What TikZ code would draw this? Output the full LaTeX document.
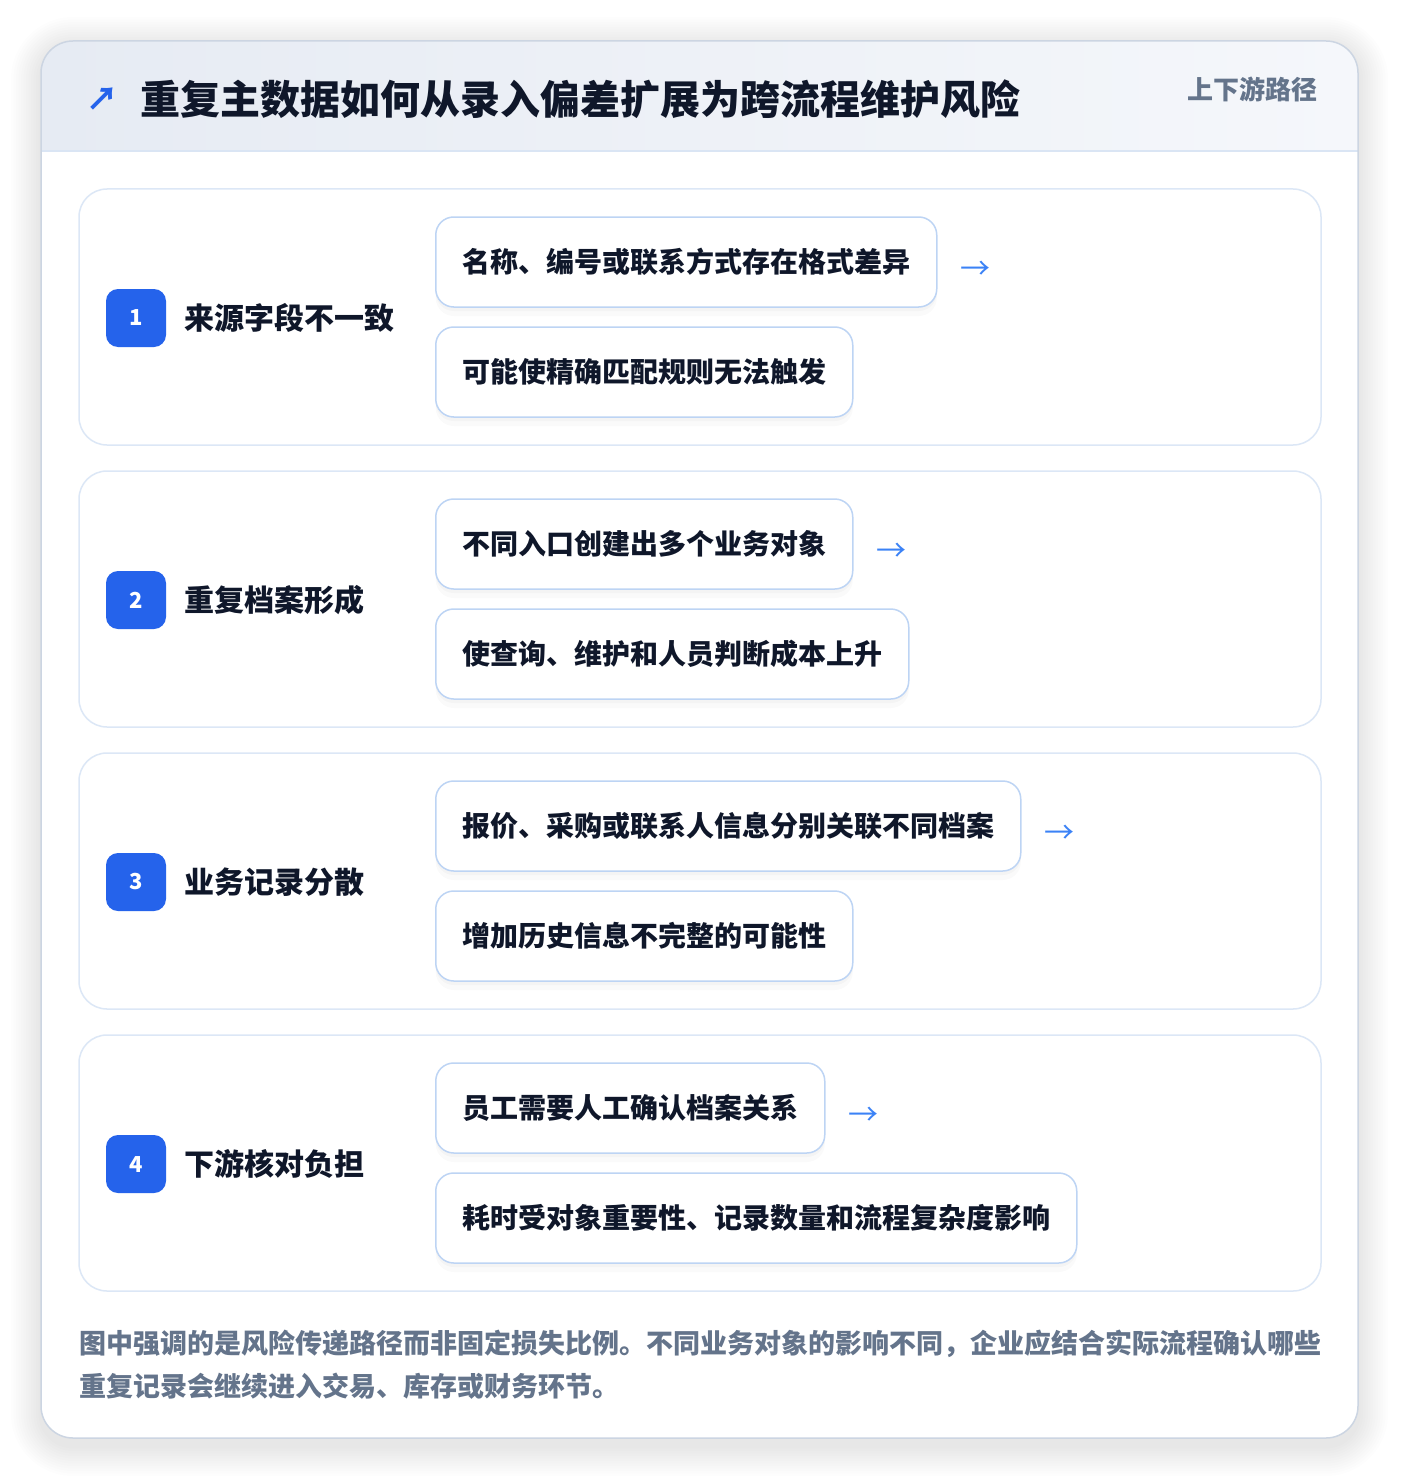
\documentclass[tikz,border=0pt]{standalone}
\usepackage{fontspec}
\setmainfont{Noto Sans CJK SC}[BoldFont={Noto Sans CJK SC Black}]
\usetikzlibrary{positioning,shadows}
\definecolor{ink}{HTML}{0F172A}
\definecolor{muted}{HTML}{64748B}
\definecolor{badgeblue}{HTML}{2563EB}
\definecolor{arrowblue}{HTML}{3B82F6}
\definecolor{cardline}{HTML}{DCE7F6}
\definecolor{boxline}{HTML}{BDD4F4}
\definecolor{outerline}{HTML}{CCD5E2}
\definecolor{headleft}{HTML}{E6EBF3}
\definecolor{headright}{HTML}{F5F7FB}
\definecolor{headline}{HTML}{DAE5F4}

\begin{document}
\begin{tikzpicture}[x=1pt,y=-1pt,
    stepcard/.style={draw=cardline,line width=1.5pt,fill=white,rounded corners=28pt},
    badge/.style={fill=badgeblue,rounded corners=12pt,minimum width=60pt,minimum height=58pt,
        text=white,font=\fontsize{22}{22}\selectfont\bfseries},
    steplabel/.style={anchor=west,inner sep=0pt,text=ink,font=\fontsize{30}{30}\selectfont\bfseries},
    itembox/.style={draw=boxline,line width=1.5pt,fill=white,rounded corners=18pt,anchor=west,
        minimum height=90pt,inner xsep=26.5pt,text=ink,font=\fontsize{28}{28}\selectfont\bfseries,
        general shadow={fill=black,opacity=0.025,shadow xshift=0pt,shadow yshift=-4pt},
        general shadow={fill=black,opacity=0.02,shadow xshift=0pt,shadow yshift=-9pt}},
    flowarrow/.style={inner sep=0pt,text=arrowblue,font=\fontsize{30}{30}\selectfont},
    footnote/.style={anchor=base west,inner sep=0pt,text=muted,font=\fontsize{27}{27}\selectfont\bfseries}]
\useasboundingbox (0,0) rectangle (1400,1482);
\fill[white] (0,0) rectangle (1400,1482);

% outer card, soft shadow and header band
\foreach \i [evaluate=\i as \r using 32+2.5*\i] in {1,...,12}
    \fill[black,opacity=0.006,rounded corners=\r pt]
        (41-2.5*\i,47-2.5*\i) rectangle (1358+2.5*\i,1446+2.5*\i);
\fill[white,rounded corners=32pt] (41,41) rectangle (1358,1438);
\begin{scope}
    \clip[rounded corners=32pt] (41,41) rectangle (1358,1438);
    \shade[left color=headleft,right color=headright] (41,41) rectangle (1358,151);
\end{scope}
\draw[headline,line width=1.5pt] (41,151) -- (1358,151);
\draw[outerline,line width=1.5pt,rounded corners=32pt] (41,41) rectangle (1358,1438);

\node[text=badgeblue,inner sep=0pt,font=\fontsize{32}{32}\selectfont\bfseries] (icon) at (102,99) {↗};
\node[anchor=west,inner sep=0pt,text=ink,font=\fontsize{40}{40}\selectfont\bfseries] (title) at (140,99)
    {重复主数据如何从录入偏差扩展为跨流程维护风险};
\node[anchor=east,inner sep=0pt,text=muted,font=\fontsize{26}{26}\selectfont\bfseries] (tag) at (1318,89)
    {上下游路径};

% step 1
\draw[stepcard] (79,189) rectangle (1321,445);
\node[badge] (n1) at (136,318) {1};
\node[steplabel] (s1) at (184,318) {来源字段不一致};
\node[itembox] (b11) at (435,262) {名称、编号或联系方式存在格式差异};
\node[itembox] (b12) at (435,372) {可能使精确匹配规则无法触发};
\node[flowarrow,right=23pt of b11,yshift=-8pt] (a1) {→};

% step 2
\draw[stepcard] (79,471) rectangle (1321,727);
\node[badge] (n2) at (136,600) {2};
\node[steplabel] (s2) at (184,600) {重复档案形成};
\node[itembox] (b21) at (435,544) {不同入口创建出多个业务对象};
\node[itembox] (b22) at (435,654) {使查询、维护和人员判断成本上升};
\node[flowarrow,right=23pt of b21,yshift=-8pt] (a2) {→};

% step 3
\draw[stepcard] (79,753) rectangle (1321,1009);
\node[badge] (n3) at (136,882) {3};
\node[steplabel] (s3) at (184,882) {业务记录分散};
\node[itembox] (b31) at (435,826) {报价、采购或联系人信息分别关联不同档案};
\node[itembox] (b32) at (435,936) {增加历史信息不完整的可能性};
\node[flowarrow,right=23pt of b31,yshift=-8pt] (a3) {→};

% step 4
\draw[stepcard] (79,1035) rectangle (1321,1291);
\node[badge] (n4) at (136,1164) {4};
\node[steplabel] (s4) at (184,1164) {下游核对负担};
\node[itembox] (b41) at (435,1108) {员工需要人工确认档案关系};
\node[itembox] (b42) at (435,1218) {耗时受对象重要性、记录数量和流程复杂度影响};
\node[flowarrow,right=23pt of b41,yshift=-8pt] (a4) {→};

% footnote
\node[footnote] (f1) at (79,1353)
    {图中强调的是风险传递路径而非固定损失比例。不同业务对象的影响不同，企业应结合实际流程确认哪些};
\node[footnote] (f2) at (79,1396) {重复记录会继续进入交易、库存或财务环节。};
\end{tikzpicture}
\end{document}
